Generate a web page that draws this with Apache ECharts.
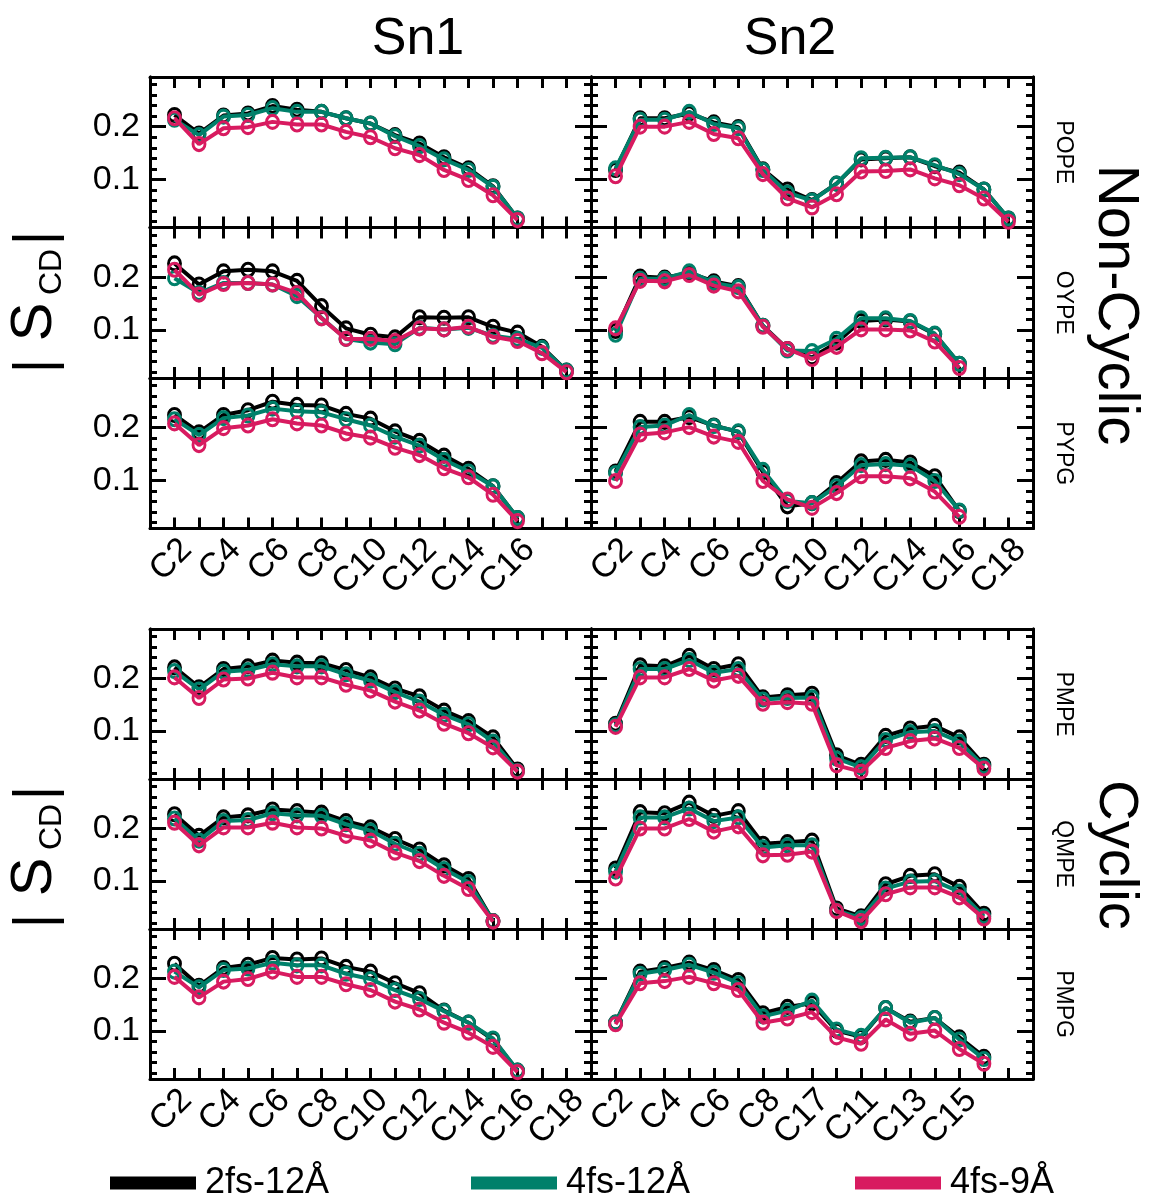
<!DOCTYPE html>
<html><head><meta charset="utf-8">
<script src="https://cdn.jsdelivr.net/npm/echarts@6/dist/echarts.min.js"></script>
<style>html,body{margin:0;padding:0;background:#fff}#c{width:1153px;height:1196px}</style>
</head><body><div id="c"></div>
<script>
// ---------- DATA (x positions start at carbon slot 2) ----------
const seriesNames = ['2fs-12Å', '4fs-12Å', '4fs-9Å'];
const seriesColors = ['#000000', '#00806A', '#D81B60'];

const ticksSn1NonCyclic = ['C2','C4','C6','C8','C10','C12','C14','C16'];
const ticksSn2NonCyclic = ['C2','C4','C6','C8','C10','C12','C14','C16','C18'];
const ticksSn1Cyclic    = ['C2','C4','C6','C8','C10','C12','C14','C16','C18'];
const ticksSn2Cyclic    = ['C2','C4','C6','C8','C17','C11','C13','C15'];
const yTickValues = [0.1, 0.2];
const yMinorValues = [0.02,0.04,0.06,0.08,0.12,0.14,0.16,0.18,0.22,0.24,0.26,0.28];

const POPE_Sn1_2fs12 = [0.222,0.187,0.221,0.225,0.239,0.232,0.228,0.216,0.206,0.184,0.168,0.142,0.121,0.087,0.026];
const POPE_Sn1_4fs12 = [0.213,0.184,0.219,0.222,0.235,0.228,0.228,0.216,0.206,0.182,0.163,0.138,0.118,0.086,0.026];
const POPE_Sn1_4fs9  = [0.216,0.167,0.197,0.199,0.209,0.204,0.204,0.190,0.180,0.159,0.146,0.118,0.099,0.070,0.023];

const POPE_Sn2_2fs12 = [0.118,0.216,0.216,0.225,0.208,0.199,0.119,0.081,0.061,0.092,0.138,0.140,0.142,0.125,0.113,0.081,0.026];
const POPE_Sn2_4fs12 = [0.121,0.213,0.213,0.228,0.205,0.197,0.118,0.075,0.060,0.092,0.140,0.141,0.142,0.127,0.110,0.081,0.026];
const POPE_Sn2_4fs9  = [0.106,0.200,0.200,0.209,0.186,0.178,0.110,0.064,0.047,0.072,0.115,0.116,0.119,0.102,0.089,0.064,0.020];

const OYPE_Sn1_2fs12 = [0.226,0.186,0.211,0.214,0.211,0.193,0.145,0.103,0.091,0.086,0.124,0.123,0.124,0.106,0.095,0.068,0.023];
const OYPE_Sn1_4fs12 = [0.198,0.170,0.189,0.189,0.186,0.164,0.123,0.083,0.076,0.073,0.104,0.101,0.104,0.089,0.083,0.066,0.023];
const OYPE_Sn1_4fs9  = [0.214,0.167,0.187,0.189,0.186,0.170,0.122,0.083,0.083,0.079,0.103,0.101,0.106,0.087,0.079,0.056,0.020];

const OYPE_Sn2_2fs12 = [0.098,0.201,0.199,0.208,0.192,0.183,0.108,0.064,0.048,0.076,0.117,0.120,0.116,0.092,0.036];
const OYPE_Sn2_4fs12 = [0.091,0.197,0.197,0.211,0.189,0.181,0.108,0.061,0.060,0.083,0.122,0.122,0.117,0.093,0.036];
const OYPE_Sn2_4fs9  = [0.103,0.193,0.192,0.204,0.184,0.173,0.106,0.064,0.045,0.068,0.101,0.101,0.099,0.078,0.028];

const PYPG_Sn1_2fs12 = [0.224,0.191,0.224,0.233,0.249,0.243,0.242,0.226,0.217,0.193,0.175,0.147,0.122,0.089,0.029];
const PYPG_Sn1_4fs12 = [0.216,0.186,0.218,0.223,0.236,0.231,0.229,0.216,0.204,0.183,0.166,0.139,0.117,0.089,0.029];
const PYPG_Sn1_4fs9  = [0.208,0.167,0.199,0.204,0.216,0.208,0.204,0.189,0.181,0.162,0.148,0.123,0.106,0.073,0.023];

const PYPG_Sn2_2fs12 = [0.117,0.211,0.211,0.220,0.204,0.192,0.116,0.051,0.057,0.095,0.136,0.139,0.134,0.108,0.042];
const PYPG_Sn2_4fs12 = [0.114,0.201,0.204,0.224,0.203,0.193,0.120,0.061,0.057,0.089,0.129,0.131,0.128,0.099,0.043];
const PYPG_Sn2_4fs9  = [0.099,0.187,0.191,0.201,0.183,0.173,0.099,0.064,0.048,0.076,0.108,0.108,0.104,0.079,0.031];

const PMPE_Sn1_2fs12 = [0.221,0.183,0.218,0.223,0.234,0.230,0.229,0.216,0.202,0.181,0.166,0.139,0.119,0.088,0.027];
const PMPE_Sn1_4fs12 = [0.214,0.179,0.213,0.216,0.227,0.223,0.223,0.208,0.196,0.174,0.156,0.131,0.113,0.080,0.024];
const PMPE_Sn1_4fs9  = [0.202,0.163,0.198,0.200,0.211,0.202,0.202,0.188,0.177,0.156,0.139,0.114,0.096,0.069,0.023];

const PMPE_Sn2_2fs12 = [0.114,0.225,0.223,0.243,0.218,0.227,0.164,0.168,0.171,0.054,0.036,0.091,0.105,0.110,0.088,0.036];
const PMPE_Sn2_4fs12 = [0.111,0.218,0.218,0.235,0.211,0.218,0.160,0.163,0.164,0.048,0.031,0.083,0.098,0.100,0.080,0.033];
const PMPE_Sn2_4fs9  = [0.108,0.202,0.202,0.218,0.196,0.205,0.152,0.155,0.152,0.035,0.023,0.068,0.081,0.086,0.068,0.029];

const QMPE_Sn1_2fs12 = [0.227,0.186,0.221,0.225,0.236,0.233,0.230,0.214,0.202,0.180,0.160,0.130,0.104,0.024];
const QMPE_Sn1_4fs12 = [0.219,0.177,0.214,0.216,0.229,0.225,0.224,0.208,0.196,0.171,0.152,0.123,0.098,0.024];
const QMPE_Sn1_4fs9  = [0.211,0.168,0.202,0.202,0.211,0.202,0.200,0.186,0.177,0.154,0.138,0.110,0.085,0.023];

const QMPE_Sn2_2fs12 = [0.124,0.231,0.229,0.249,0.224,0.233,0.171,0.174,0.177,0.048,0.033,0.094,0.110,0.113,0.089,0.038];
const QMPE_Sn2_4fs12 = [0.118,0.221,0.221,0.238,0.214,0.221,0.164,0.168,0.168,0.044,0.030,0.086,0.099,0.100,0.080,0.033];
const QMPE_Sn2_4fs9  = [0.105,0.200,0.200,0.218,0.194,0.204,0.149,0.150,0.156,0.043,0.024,0.075,0.088,0.088,0.069,0.029];

const PMPG_Sn1_2fs12 = [0.228,0.186,0.220,0.226,0.239,0.236,0.238,0.222,0.213,0.191,0.172,0.139,0.116,0.084,0.025];
const PMPG_Sn1_4fs12 = [0.213,0.183,0.216,0.219,0.230,0.225,0.225,0.209,0.199,0.178,0.161,0.138,0.116,0.086,0.025];
const PMPG_Sn1_4fs9  = [0.203,0.164,0.194,0.199,0.213,0.203,0.203,0.189,0.178,0.156,0.141,0.116,0.097,0.070,0.022];

const PMPG_Sn2_2fs12 = [0.116,0.213,0.220,0.230,0.216,0.197,0.134,0.146,0.153,0.101,0.089,0.144,0.118,0.125,0.088,0.051];
const PMPG_Sn2_4fs12 = [0.116,0.209,0.216,0.226,0.211,0.191,0.128,0.139,0.158,0.103,0.091,0.144,0.116,0.125,0.084,0.047];
const PMPG_Sn2_4fs9  = [0.113,0.191,0.195,0.203,0.191,0.178,0.116,0.124,0.136,0.088,0.076,0.122,0.095,0.101,0.066,0.038];

// ---------- LAYOUT ----------
const FONT = '"Liberation Sans", Arial, Helvetica, sans-serif';
const rowTops = [77, 227.5, 378, 629, 779, 929];
const rowHeights = [150.5, 150.5, 150.5, 150, 150, 150];
const colLefts = [150, 591];
const colWidths = [441, 442];
const Y_MIN = 0.009, Y_MAX = 0.294;

const panels = [
  {label:'POPE', row:0, col:0, sets:[POPE_Sn1_2fs12, POPE_Sn1_4fs12, POPE_Sn1_4fs9], ticks:null},
  {label:'POPE', row:0, col:1, sets:[POPE_Sn2_2fs12, POPE_Sn2_4fs12, POPE_Sn2_4fs9], ticks:null},
  {label:'OYPE', row:1, col:0, sets:[OYPE_Sn1_2fs12, OYPE_Sn1_4fs12, OYPE_Sn1_4fs9], ticks:null},
  {label:'OYPE', row:1, col:1, sets:[OYPE_Sn2_2fs12, OYPE_Sn2_4fs12, OYPE_Sn2_4fs9], ticks:null},
  {label:'PYPG', row:2, col:0, sets:[PYPG_Sn1_2fs12, PYPG_Sn1_4fs12, PYPG_Sn1_4fs9], ticks:ticksSn1NonCyclic},
  {label:'PYPG', row:2, col:1, sets:[PYPG_Sn2_2fs12, PYPG_Sn2_4fs12, PYPG_Sn2_4fs9], ticks:ticksSn2NonCyclic},
  {label:'PMPE', row:3, col:0, sets:[PMPE_Sn1_2fs12, PMPE_Sn1_4fs12, PMPE_Sn1_4fs9], ticks:null},
  {label:'PMPE', row:3, col:1, sets:[PMPE_Sn2_2fs12, PMPE_Sn2_4fs12, PMPE_Sn2_4fs9], ticks:null},
  {label:'QMPE', row:4, col:0, sets:[QMPE_Sn1_2fs12, QMPE_Sn1_4fs12, QMPE_Sn1_4fs9], ticks:null},
  {label:'QMPE', row:4, col:1, sets:[QMPE_Sn2_2fs12, QMPE_Sn2_4fs12, QMPE_Sn2_4fs9], ticks:null},
  {label:'PMPG', row:5, col:0, sets:[PMPG_Sn1_2fs12, PMPG_Sn1_4fs12, PMPG_Sn1_4fs9], ticks:ticksSn1Cyclic},
  {label:'PMPG', row:5, col:1, sets:[PMPG_Sn2_2fs12, PMPG_Sn2_4fs12, PMPG_Sn2_4fs9], ticks:ticksSn2Cyclic}
];

const grid = [], xAxis = [], yAxis = [], series = [];
const frame = {show:true, onZero:false, lineStyle:{color:'#000', width:3}};

panels.forEach((p, i) => {
  grid.push({left: colLefts[p.col], top: rowTops[p.row], width: colWidths[p.col], height: rowHeights[p.row]});
  const xTick = {show:true, inside:true, length:11, lineStyle:{color:'#000', width:3}};
  const labels = p.ticks;
  xAxis.push({
    gridIndex:i, type:'value', min:1, max:19, interval:1, position:'bottom',
    axisLine:frame, axisTick:xTick, splitLine:{show:false},
    axisLabel: labels ? {
      show:true, rotate:45, fontSize:34, fontFamily:FONT, color:'#000', margin:4,
      verticalAlign:'top', hideOverlap:false,
      formatter: v => { const k = Math.round(v) - 2; return (k >= 0 && k % 2 === 0 && k/2 < labels.length) ? labels[k/2] : ''; }
    } : {show:false}
  });
  xAxis.push({
    gridIndex:i, type:'value', min:1, max:19, interval:1, position:'top',
    axisLine:frame, axisTick:xTick, splitLine:{show:false}, axisLabel:{show:false}
  });
  ['left','right'].forEach(side => {
    const showLab = side === 'left' && p.col === 0;
    yAxis.push({
      gridIndex:i, type:'value', min:Y_MIN, max:Y_MAX, position:side,
      axisLine:frame, splitLine:{show:false},
      axisTick:{show:true, inside:true, length:16, customValues:yTickValues, lineStyle:{color:'#000', width:3}},
      axisLabel: showLab ? {show:true, customValues:yTickValues, formatter: v => v.toFixed(1), fontSize:34, fontFamily:FONT, color:'#000', margin:10} : {show:false}
    });
    yAxis.push({
      gridIndex:i, type:'value', min:Y_MIN, max:Y_MAX, position:side,
      axisLine:frame, splitLine:{show:false},
      axisTick:{show:true, inside:true, length:7, customValues:yMinorValues, lineStyle:{color:'#000', width:3}},
      axisLabel:{show:false}
    });
  });
  p.sets.forEach((arr, k) => {
    const c = seriesColors[k];
    series.push({
      type:'line', name:seriesNames[k], xAxisIndex:2*i, yAxisIndex:4*i,
      data: arr.map((v, j) => [2 + j, v]),
      symbol:'circle', symbolSize:[12, 13], showSymbol:true, clip:false,
      lineStyle:{color:c, width:4},
      itemStyle:{color:'rgba(0,0,0,0)', borderColor:c, borderWidth:3},
      emphasis:{disabled:true}, z:2 + k, animation:false
    });
  });
});

const legendLefts = [105, 466, 850];
const legend = seriesNames.map((n, k) => ({
  data:[{name:n, itemStyle:{color:seriesColors[k], borderWidth:0}}],
  left:legendLefts[k], top:1160, icon:'rect', itemWidth:86, itemHeight:13,
  selectedMode:false,
  textStyle:{fontSize:36, fontFamily:FONT, color:'#000', padding:[0,0,0,4]}
}));

function rotText(text, x, y, size, rot) {
  return {type:'text', x:x, y:y, rotation:rot, silent:true,
    style:{text:text, fontSize:size, fontFamily:FONT, fill:'#000', align:'center', verticalAlign:'middle'}};
}
const graphic = [
  rotText('Sn1', 418, 40, 52, 0),
  rotText('Sn2', 790, 40, 52, 0),
  rotText('Non-Cyclic', 1115, 305, 58, -Math.PI/2),
  rotText('Cyclic', 1115, 855, 56, -Math.PI/2)
];
panels.filter(p => p.col === 1).forEach(p => {
  graphic.push(rotText(p.label, 1063, rowTops[p.row] + rowHeights[p.row]/2, 23, -Math.PI/2));
});
[0, 555].forEach(dy => {
  graphic.push(rotText('|', 37, 366 + dy, 56, Math.PI/2));
  graphic.push(rotText('S', 35, 322 + dy, 58, Math.PI/2));
  graphic.push(rotText('CD', 52, 272 + dy, 32, Math.PI/2));
  graphic.push(rotText('|', 37, 238 + dy, 56, Math.PI/2));
});

const chart = echarts.init(document.getElementById('c'), null, {renderer:'canvas'});
chart.setOption({
  backgroundColor:'#ffffff', animation:false,
  grid, xAxis, yAxis, series, legend, graphic
});
</script></body></html>
